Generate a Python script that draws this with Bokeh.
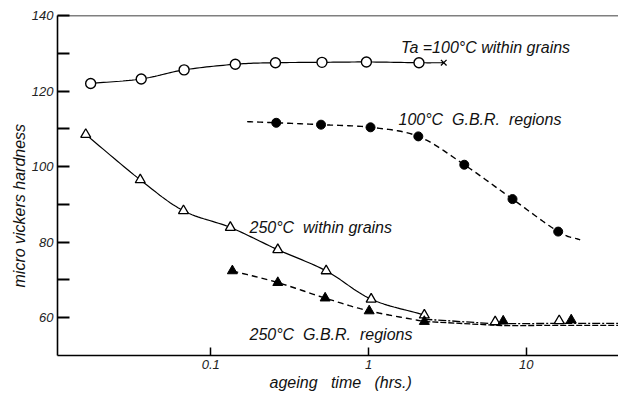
import numpy as np
from bokeh.plotting import figure
from bokeh.models import FixedTicker, CustomJSTickFormatter, Label, Span, Range1d, Title
from bokeh.embed import file_html
from bokeh.resources import INLINE

# ---- data (ageing time in hrs, micro Vickers hardness) ----
wg100_t = [0.0173, 0.0362, 0.0677, 0.143, 0.257, 0.507, 0.97, 2.09]
wg100_h = [122.0, 123.2, 125.6, 127.1, 127.5, 127.6, 127.7, 127.5]
wg100_x_t = [3.0]
wg100_x_h = [127.5]

gbr100_t = [0.26, 0.50, 1.03, 2.07, 4.05, 8.19, 15.96]
gbr100_h = [111.6, 111.1, 110.4, 108.0, 100.5, 91.4, 82.8]
gbr100_curve_start = (0.17, 111.9)
gbr100_curve_end = (22.0, 80.6)

wg250_t = [0.0161, 0.0357, 0.0671, 0.133, 0.266, 0.539, 1.04, 2.26, 6.36, 16.2]
wg250_h = [108.5, 96.5, 88.3, 83.9, 78.0, 72.4, 64.9, 60.7, 58.9, 59.2]
wg250_tail_t = [2.26, 6.36, 16.2, 40.0]
wg250_tail_h = [59.6, 58.4, 58.5, 58.5]

gbr250_t = [0.137, 0.266, 0.531, 1.01, 2.26, 7.15, 19.3]
gbr250_h = [72.4, 69.3, 65.2, 61.8, 59.0, 59.1, 59.4]
gbr250_tail_t = [2.26, 7.15, 19.3, 40.0]
gbr250_tail_h = [59.0, 57.9, 58.0, 58.0]

y_ticks = [60, 80, 100, 120, 140]
y_minor = [70, 90, 110, 130]
x_ticks = [0.1, 1, 10]

FONT = "Liberation Sans"
NB = "\u00a0"


def smooth(xs, ys, n=16):
    """Catmull-Rom curve through the points, in log-x space."""
    pts = np.column_stack([np.log10(xs), ys]).astype(float)
    if len(pts) < 3:
        return list(xs), list(ys)
    P = np.vstack([2 * pts[0] - pts[1], pts, 2 * pts[-1] - pts[-2]])
    out = []
    for i in range(1, len(P) - 2):
        p0, p1, p2, p3 = P[i - 1], P[i], P[i + 1], P[i + 2]
        for t in np.linspace(0, 1, n, endpoint=False):
            t2, t3 = t * t, t * t * t
            q = 0.5 * ((2 * p1) + (-p0 + p2) * t + (2 * p0 - 5 * p1 + 4 * p2 - p3) * t2
                       + (-p0 + 3 * p1 - 3 * p2 + p3) * t3)
            out.append(q)
    out.append(P[-2])
    out = np.array(out)
    return list(10 ** out[:, 0]), list(out[:, 1])


p = figure(width=618, height=398, x_axis_type="log",
           x_range=Range1d(0.01066, 38.5), y_range=Range1d(50, 140),
           output_backend="svg", toolbar_location=None,
           min_border_left=57, min_border_right=0, min_border_top=15, min_border_bottom=43)
p.grid.visible = False
p.outline_line_color = None
p.background_fill_color = "white"
p.border_fill_color = "white"

# top frame line
p.add_layout(Span(location=140, dimension="width", line_color="black", line_width=1.6))

# axes
p.yaxis.ticker = FixedTicker(ticks=y_ticks, minor_ticks=y_minor)
p.yaxis.major_tick_in = 12
p.yaxis.major_tick_out = 0
p.yaxis.minor_tick_in = 12
p.yaxis.minor_tick_out = 0
p.yaxis.major_tick_line_width = 2
p.yaxis.minor_tick_line_width = 2
p.yaxis.minor_tick_line_color = "black"
p.yaxis.axis_line_width = 1.6
p.yaxis.major_label_standoff = 4

p.xaxis.ticker = FixedTicker(ticks=x_ticks, minor_ticks=[])
p.xaxis.formatter = CustomJSTickFormatter(code="return tick.toString();")
p.xaxis.major_tick_in = 8
p.xaxis.major_tick_out = 0
p.xaxis.minor_tick_line_color = None
p.xaxis.major_tick_line_width = 1.5
p.xaxis.axis_line_width = 1.6
p.xaxis.major_label_standoff = 4

for ax in (p.xaxis, p.yaxis):
    ax.major_label_text_font = FONT
    ax.major_label_text_font_style = "italic"
    ax.major_label_text_font_size = "13px"
    ax.major_label_text_color = "#222222"
    ax.axis_line_color = "black"
    ax.major_tick_line_color = "black"

# curves
cx, cy = smooth(wg100_t + wg100_x_t, wg100_h + wg100_x_h)
p.line(cx, cy, line_color="black", line_width=1.2)

gx, gy = smooth([gbr100_curve_start[0]] + gbr100_t + [gbr100_curve_end[0]],
                [gbr100_curve_start[1]] + gbr100_h + [gbr100_curve_end[1]])
p.line(gx, gy, line_color="black", line_width=1.4, line_dash="6 4")

n_main = wg250_t.index(wg250_tail_t[0]) + 1
tx, ty = smooth(wg250_t[:n_main], wg250_h[:n_main])
p.line(tx, ty, line_color="black", line_width=1.2)
p.line(wg250_tail_t, wg250_tail_h, line_color="black", line_width=1.3, line_dash="8 2 2 2")

n_main2 = gbr250_t.index(gbr250_tail_t[0]) + 1
fx, fy = smooth(gbr250_t[:n_main2], gbr250_h[:n_main2])
p.line(fx, fy, line_color="black", line_width=1.4, line_dash="6 4")
p.line(gbr250_tail_t, gbr250_tail_h, line_color="black", line_width=1.3, line_dash="6 2")

# markers
p.scatter(wg100_t, wg100_h, marker="circle", size=10, fill_color="white",
          line_color="black", line_width=1.4)
p.scatter(wg100_x_t, wg100_x_h, marker="x", size=8, line_color="black", line_width=1.3)
p.scatter(gbr100_t, gbr100_h, marker="circle", size=9, fill_color="black",
          line_color="black")
p.scatter(wg250_t, wg250_h, marker="triangle", size=10, fill_color="white",
          line_color="black", line_width=1.3)
p.scatter(gbr250_t, gbr250_h, marker="triangle", size=10, fill_color="black",
          line_color="black")


# in-plot labels
def add_text(txt, x, y, size="16px"):
    p.add_layout(Label(x=x, y=y, text=txt, text_font=FONT, text_font_style="italic",
                       text_font_size=size, text_color="#111111",
                       text_baseline="middle", text_align="left"))


add_text(f"Ta{NB}=100°C{NB}within{NB}grains", 1.61, 131.5)
add_text(f"100°C{NB}{NB}G.B.R.{NB}{NB}regions", 1.55, 112.4)
add_text(f"250°C{NB}{NB}within{NB}grains", 0.176, 83.9)
add_text(f"250°C{NB}{NB}G.B.R.{NB}{NB}regions", 0.176, 55.5)

# axis titles
p.add_layout(Title(text="micro vickers hardness", align="left", offset=68,
                   text_font=FONT, text_font_style="italic", text_font_size="16px",
                   text_color="#111111", standoff=2), "left")
p.add_layout(Title(text=f"ageing{NB}{NB}{NB}time{NB}{NB}{NB}(hrs.)", align="left", offset=212,
                   text_font=FONT, text_font_style="italic", text_font_size="16px",
                   text_color="#111111", standoff=0), "below")

open("out.html", "w").write(file_html(p, INLINE))
